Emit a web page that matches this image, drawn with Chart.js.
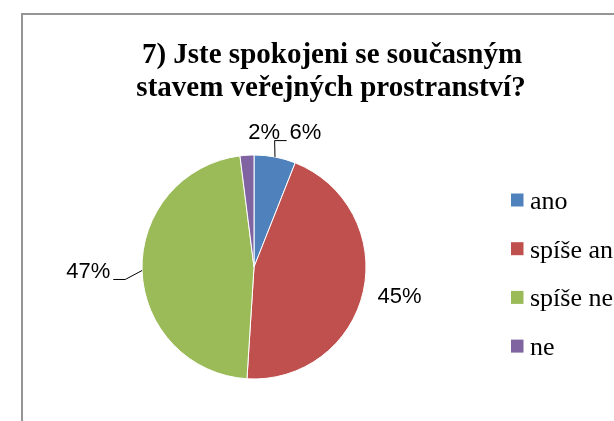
<!DOCTYPE html>
<html><head><meta charset="utf-8">
<script src="https://cdn.jsdelivr.net/npm/chart.js@4"></script>
<style>html,body{margin:0;padding:0;background:#fff;overflow:hidden}#wrap{width:614px;height:421px;position:relative}</style>
</head><body><div id="wrap"><canvas id="c" width="614" height="421"></canvas></div>
<script>
// ---- data ----
const titleLines = ["7) Jste spokojeni se současným", "stavem veřejných prostranství?"];
const categories = ["ano", "spíše ano", "spíše ne", "ne"];
const values = [6, 45, 47, 2];
const colors = ["#4F81BD", "#C0504D", "#9BBB59", "#8064A2"];
// label placement (in units of pie radius, relative to centre) and whether a leader line is drawn
const labelOffsets = [[0.46, -1.20], [1.30, 0.27], [-1.48, 0.04], [0.09, -1.20]];
const leaders = [true, false, true, false];

const deco = {
  id: 'deco',
  beforeDraw(chart) {
    const ctx = chart.ctx;
    ctx.save();
    ctx.fillStyle = '#fff';
    ctx.fillRect(0, 0, chart.width, chart.height);
    ctx.strokeStyle = '#959595';
    ctx.lineWidth = 2;
    ctx.strokeRect(22, 14, 900, 700);
    ctx.restore();
  },
  afterDraw(chart) {
    const ctx = chart.ctx;
    ctx.save();
    // title
    ctx.fillStyle = '#000';
    ctx.font = 'bold 29px "Liberation Serif"';
    ctx.textAlign = 'center';
    ctx.textBaseline = 'alphabetic';
    ctx.fillText(titleLines[0], 332, 63);
    ctx.fillText(titleLines[1], 331, 96);

    // legend
    const legX = 511, legY0 = 200, legStep = 48.7;
    ctx.textAlign = 'left';
    ctx.textBaseline = 'alphabetic';
    ctx.font = '26px "Liberation Serif"';
    categories.forEach((c, i) => {
      const y = legY0 + i * legStep;
      ctx.fillStyle = colors[i];
      ctx.fillRect(legX, y - 6.5, 12.5, 13);
      ctx.fillStyle = '#000';
      ctx.fillText(c, legX + 19, y + 9);
    });

    // data labels
    const meta = chart.getDatasetMeta(0);
    ctx.font = '22px "Liberation Sans"';
    ctx.textAlign = 'center';
    ctx.textBaseline = 'middle';
    meta.data.forEach((arc, i) => {
      const r = arc.outerRadius;
      const mid = (arc.startAngle + arc.endAngle) / 2;
      const ax = arc.x + Math.cos(mid) * r;
      const ay = arc.y + Math.sin(mid) * r;
      const tx = arc.x + labelOffsets[i][0] * r;
      const ty = arc.y + labelOffsets[i][1] * r;
      const txt = values[i] + '%';
      ctx.fillStyle = '#000';
      ctx.fillText(txt, tx, ty);
      if (leaders[i]) {
        const w = ctx.measureText(txt).width;
        const dir = ax > tx ? 1 : -1;
        const ex = tx + dir * (w / 2 + 3);
        const ly = ty + 8;
        const kx = ex + dir * 12;
        ctx.strokeStyle = '#000';
        ctx.lineWidth = 1;
        ctx.beginPath();
        ctx.moveTo(ex, ly);
        ctx.lineTo(kx, ly);
        ctx.lineTo(ax, ay);
        ctx.stroke();
      }
    });
    ctx.restore();
  }
};

new Chart(document.getElementById('c'), {
  type: 'pie',
  data: {
    labels: categories,
    datasets: [{ data: values, backgroundColor: colors, borderColor: '#ffffff', borderWidth: 1 }]
  },
  options: {
    responsive: false,
    animation: false,
    devicePixelRatio: 1,
    radius: 112,
    layout: { padding: { left: 142, right: 248, top: 155, bottom: 42 } },
    plugins: { legend: { display: false }, title: { display: false }, tooltip: { enabled: false } }
  },
  plugins: [deco]
});
</script>
</body></html>
